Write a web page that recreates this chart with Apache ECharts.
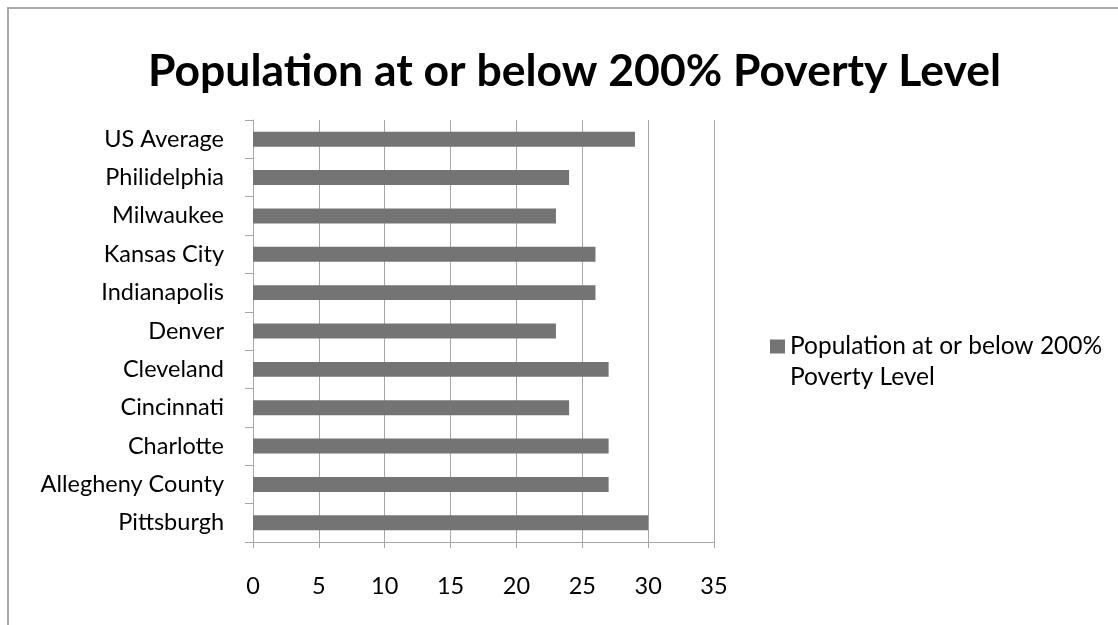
<!DOCTYPE html>
<html>
<head>
<meta charset="utf-8">
<title>Population at or below 200% Poverty Level</title>
<script src="https://cdn.jsdelivr.net/npm/echarts@6/dist/echarts.min.js"></script>
<style>
  html, body { margin: 0; padding: 0; background: #ffffff; }
  #chart { width: 1118px; height: 625px; }
</style>
</head>
<body>
<div id="chart"></div>
<script>
// Places, listed bottom to top as they appear on the vertical axis
const places = [
  'Pittsburgh', 'Allegheny County', 'Charlotte', 'Cincinnati', 'Cleveland',
  'Denver', 'Indianapolis', 'Kansas City', 'Milwaukee', 'Philidelphia', 'US Average'
];
// Share of population at or below 200% of the poverty level (%)
const povertyShare = [30, 27, 27, 24, 27, 23, 26, 26, 23, 24, 29];
const seriesName = 'Population at or below 200% Poverty Level';
const chartTitle = 'Population at or below 200% Poverty Level';

const FONT = 'Lato, "Liberation Sans", sans-serif';
const GRID_GRAY = '#a6a6a6';
const LABEL_SIZE = 23.5;

const chart = echarts.init(document.getElementById('chart'), null, { renderer: 'canvas' });

chart.setOption({
  animation: false,
  backgroundColor: '#ffffff',
  title: {
    text: chartTitle,
    left: 143,
    top: 44,
    textStyle: { fontFamily: FONT, fontWeight: 'bold', fontSize: 44.5, color: '#000000' }
  },
  graphic: [{
    type: 'rect',
    shape: { x: 8, y: 8, width: 1130, height: 640 },
    style: { fill: 'none', stroke: '#aaaaaa', lineWidth: 2 },
    silent: true
  }],
  legend: {
    data: [seriesName],
    orient: 'vertical',
    left: 770,
    top: 300,
    padding: 0,
    itemWidth: 15,
    itemHeight: 14,
    icon: 'rect',
    // blank first line keeps the swatch level with the first line of text
    formatter: () => ' \nPopulation at or below 200%\nPoverty Level',
    textStyle: {
      fontFamily: FONT, fontSize: 24.5, color: '#000000', lineHeight: 31
    }
  },
  grid: { left: 253, right: 404, top: 120, bottom: 83, containLabel: false },
  xAxis: {
    type: 'value',
    min: 0,
    max: 35,
    interval: 5,
    axisLine: { show: true, lineStyle: { color: GRID_GRAY, width: 1 } },
    axisTick: { show: true, length: 6, lineStyle: { color: GRID_GRAY } },
    axisLabel: { margin: 32, fontFamily: FONT, fontSize: LABEL_SIZE, color: '#000000' },
    splitLine: { show: true, lineStyle: { color: GRID_GRAY, width: 1 } }
  },
  yAxis: {
    type: 'category',
    data: places,
    axisLine: { show: true, lineStyle: { color: GRID_GRAY, width: 1 } },
    axisTick: { show: true, length: 8, alignWithLabel: false, lineStyle: { color: GRID_GRAY } },
    axisLabel: {
      margin: 29, fontFamily: FONT, fontSize: LABEL_SIZE, color: '#000000',
      verticalAlign: 'middle', lineHeight: 30, padding: [5, 0, 0, 0]
    },
    splitLine: { show: false }
  },
  series: [{
    name: seriesName,
    type: 'bar',
    data: povertyShare,
    barCategoryGap: '61%',
    itemStyle: { color: '#747474' }
  }]
});
</script>
</body>
</html>
